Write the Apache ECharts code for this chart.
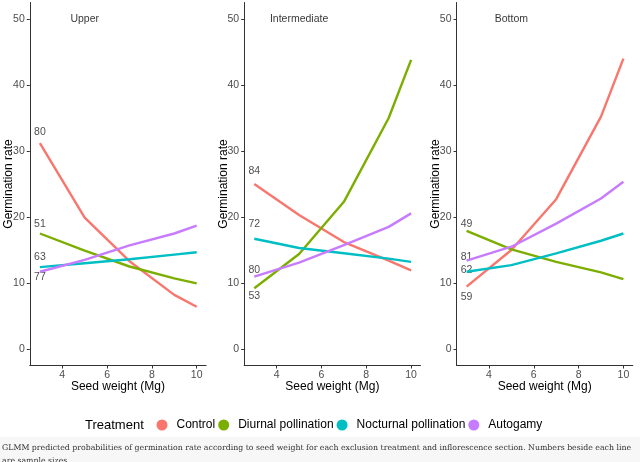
<!DOCTYPE html>
<html>
<head>
<meta charset="utf-8">
<script src="https://cdn.jsdelivr.net/npm/echarts@6/dist/echarts.min.js"></script>
<style>
html,body{margin:0;padding:0;background:#fff;}
#chart{width:640px;height:462px;}
</style>
</head>
<body>
<div id="chart"></div>
<script>
// ---- data ----
const sections = ['Upper', 'Intermediate', 'Bottom'];
const treatments = ['Control', 'Diurnal pollination', 'Nocturnal pollination', 'Autogamy'];
const seedWeights = [3, 5, 7, 9, 10];
const xTicks = [4, 6, 8, 10];
const yTicks = [0, 10, 20, 30, 40, 50];

// germination rate per treatment (Control, Diurnal, Nocturnal, Autogamy)
const upperRates = [
  [31.2, 19.9, 13.3, 8.2, 6.4],
  [17.5, 14.9, 12.5, 10.7, 9.95],
  [12.4, 13.0, 13.6, 14.3, 14.65],
  [11.7, 13.5, 15.7, 17.5, 18.7]
];
const intermediateRates = [
  [25.0, 20.3, 16.2, 13.4, 11.9],
  [9.2, 14.4, 22.3, 35.0, 43.8],
  [16.7, 15.3, 14.5, 13.7, 13.2],
  [10.95, 13.1, 15.75, 18.5, 20.55]
];
const bottomRates = [
  [9.45, 15.0, 22.7, 35.2, 44.0],
  [17.9, 15.1, 13.2, 11.6, 10.6],
  [11.7, 12.7, 14.5, 16.4, 17.5],
  [13.4, 15.5, 19.0, 22.8, 25.35]
];

// sample sizes shown beside each line start, with the rate they sit at
const upperSampleSizes = ['80', '51', '63', '77'];
const upperSampleRates = [32.8, 18.9, 13.9, 10.95];
const intermediateSampleSizes = ['84', '72', '80', '53'];
const intermediateSampleRates = [27.0, 18.9, 12.0, 8.0];
const bottomSampleSizes = ['49', '81', '62', '59'];
const bottomSampleRates = [18.9, 13.9, 11.9, 7.9];

const captionLines = [
  'GLMM predicted probabilities of germination rate according to seed weight for each exclusion treatment and inflorescence section. Numbers beside each line',
  'are sample sizes.'
];

// ---- styling / layout ----
const colors = ['#F8766D', '#7CAE00', '#00BFC4', '#C77CFF'];
const sans = "'Liberation Sans', Arial, sans-serif";
const panelLefts = [29.8, 244.2, 456.5];
const panelWidth = 176.3;
const allRates = [upperRates, intermediateRates, bottomRates];
const allSizes = [upperSampleSizes, intermediateSampleSizes, bottomSampleSizes];
const allSizeRates = [upperSampleRates, intermediateSampleRates, bottomSampleRates];

const grid = [], xAxis = [], yAxis = [], series = [];
sections.forEach((sec, i) => {
  grid.push({left: panelLefts[i], top: 2.5, width: panelWidth, height: 363, containLabel: false, outerBoundsMode: 'none'});
  xAxis.push({
    gridIndex: i, type: 'value', min: 2.55, max: 10.42,
    name: 'Seed weight (Mg)', nameLocation: 'middle', nameGap: 15, nameMoveOverlap: false,
    nameTextStyle: {color: '#000', fontSize: 12, fontFamily: sans},
    axisLine: {show: true, onZero: false, lineStyle: {color: '#333', width: 1}},
    axisTick: {show: true, length: 3, customValues: xTicks, lineStyle: {color: '#333'}},
    axisLabel: {customValues: xTicks, color: '#4d4d4d', fontSize: 10.5, fontFamily: sans, margin: 4},
    splitLine: {show: false}
  });
  yAxis.push({
    gridIndex: i, type: 'value', min: -2.5, max: 52.5,
    name: 'Germination rate', nameLocation: 'middle', nameGap: 15, nameRotate: 90, nameMoveOverlap: false,
    nameTextStyle: {color: '#000', fontSize: 12, fontFamily: sans},
    axisLine: {show: true, onZero: false, lineStyle: {color: '#333', width: 1}},
    axisTick: {show: true, length: 3, customValues: yTicks, lineStyle: {color: '#333'}},
    axisLabel: {customValues: yTicks, color: '#4d4d4d', fontSize: 10.5, fontFamily: sans, margin: 5},
    splitLine: {show: false}
  });
  treatments.forEach((t, j) => {
    series.push({
      name: t, type: 'line', xAxisIndex: i, yAxisIndex: i,
      data: seedWeights.map((w, k) => [w, allRates[i][j][k]]),
      showSymbol: false, symbol: 'none', color: colors[j],
      lineStyle: {color: colors[j], width: 2.4}, silent: true, animation: false
    });
  });
  series.push({
    type: 'scatter', xAxisIndex: i, yAxisIndex: i, symbolSize: 0, silent: true, animation: false,
    data: allSizes[i].map((s, j) => ({name: s, value: [3, allSizeRates[i][j]]})),
    label: {show: true, position: 'inside', formatter: '{b}', color: '#1a1a1a', fontSize: 10.5, fontFamily: sans}
  });
  series.push({
    type: 'scatter', xAxisIndex: i, yAxisIndex: i, symbolSize: 0, silent: true, animation: false,
    data: [{name: sec, value: [5, 50]}],
    label: {show: true, position: 'inside', formatter: '{b}', color: '#000', fontSize: 10.5, fontFamily: sans}
  });
});

// fit caption font to measured line width
const mc = document.createElement('canvas').getContext('2d');
mc.font = "10px 'DejaVu Serif'";
const w10 = mc.measureText(captionLines[0]).width;
const capSize = Math.min(11, 10 * 630 / w10);

const chart = echarts.init(document.getElementById('chart'), null, {renderer: 'canvas'});
chart.setOption({
  backgroundColor: '#fff',
  animation: false,
  grid, xAxis, yAxis, series,
  legend: {
    data: treatments, left: 151.5, top: 414, icon: 'circle',
    itemWidth: 19, itemHeight: 11, itemGap: 3,
    textStyle: {color: '#000', fontSize: 12, fontFamily: sans},
    selectedMode: false
  },
  graphic: [
    {type: 'text', left: 85, top: 419, style: {text: 'Treatment', fill: '#000', fontSize: 13, fontFamily: sans}},
    {type: 'rect', left: 0, top: 437, shape: {width: 640, height: 25}, style: {fill: '#f7f7f7'}, z: 0},
    {type: 'text', left: 2, top: 444, style: {text: captionLines[0], fill: '#333', fontSize: capSize, fontFamily: "'DejaVu Serif', serif"}, z: 1},
    {type: 'text', left: 2, top: 457, style: {text: captionLines[1], fill: '#333', fontSize: capSize, fontFamily: "'DejaVu Serif', serif"}, z: 1}
  ]
});
</script>
</body>
</html>
